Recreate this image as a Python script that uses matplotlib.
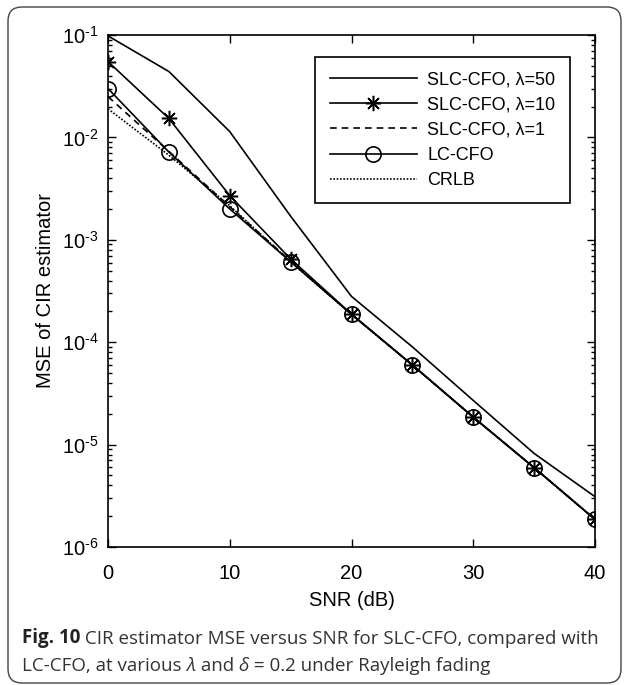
import matplotlib
matplotlib.use("Agg")
import matplotlib.pyplot as plt
from matplotlib.patches import FancyBboxPatch
from matplotlib.ticker import LogLocator, NullFormatter, FuncFormatter
from matplotlib.transforms import IdentityTransform
import numpy as np

snr = [0, 5, 10, 15, 20, 25, 30, 35, 40]
slc_50 = [0.098, 0.044, 0.0114, 1.7e-3, 2.8e-4, 9.0e-5, 2.7e-5, 8.2e-6, 3.1e-6]
slc_10 = [0.055, 0.0153, 2.7e-3, 6.5e-4, 1.88e-4, 6.0e-5, 1.86e-5, 5.95e-6, 1.86e-6]
slc_1 = [0.025, 7.3e-3, 2.1e-3, 6.2e-4, 1.87e-4, 5.98e-5, 1.85e-5, 5.95e-6, 1.86e-6]
lc_cfo = [0.030, 0.0072, 0.0020, 6.1e-4, 1.87e-4, 5.98e-5, 1.85e-5, 5.95e-6, 1.86e-6]
crlb = [0.019, 6.7e-3, 2.15e-3, 6.1e-4, 1.86e-4, 5.97e-5, 1.85e-5, 5.95e-6, 1.86e-6]
labels = ["SLC-CFO, λ=50", "SLC-CFO, λ=10", "SLC-CFO, λ=1", "LC-CFO", "CRLB"]
xticks = [0, 10, 20, 30, 40]

plt.rcParams['font.family'] = ['Liberation Sans', 'DejaVu Sans']
plt.rcParams['mathtext.fontset'] = 'custom'
plt.rcParams['mathtext.rm'] = 'Liberation Sans'
plt.rcParams['mathtext.it'] = 'Liberation Sans:italic'
plt.rcParams['mathtext.default'] = 'regular'

fig = plt.figure(figsize=(6.27, 6.85), dpi=100)
ax = fig.add_axes([108/627, 1-547/685, 487/627, 512/685])

lw = 1.2
ax.semilogy(snr, slc_50, color='black', lw=lw, label=labels[0])
ax.semilogy(snr, slc_10, color='black', lw=lw, marker=(8, 2, 0), markersize=11,
            markeredgewidth=1.1, label=labels[1])
ax.semilogy(snr, slc_1, color='black', lw=lw, ls=(0, (4, 3)), label=labels[2])
ax.semilogy(snr, lc_cfo, color='black', lw=lw, marker='o', markersize=11,
            markerfacecolor='none', markeredgewidth=1.2, label=labels[3])
ax.semilogy(snr, crlb, color='black', lw=lw, ls=(0, (1, 1)), label=labels[4])

ax.set_xlim(0, 40)
ax.set_ylim(1e-6, 1e-1)
ax.set_xticks(xticks)
ax.yaxis.set_major_locator(LogLocator(base=10, numticks=10))
ax.yaxis.set_major_formatter(FuncFormatter(
    lambda v, p: "$10^{\u2010%d}$" % int(round(-np.log10(v)))))
ax.yaxis.set_minor_locator(LogLocator(base=10, subs=range(2, 10), numticks=20))
ax.yaxis.set_minor_formatter(NullFormatter())
ax.tick_params(which='both', direction='in', top=True, right=True, labelsize=14.5,
               width=1)
ax.tick_params(axis='x', pad=12)
ax.tick_params(axis='y', pad=7)
ax.tick_params(which='major', length=6)
ax.tick_params(which='minor', length=3)
for s in ax.spines.values():
    s.set_linewidth(1.2)

ax.set_xlabel("SNR (dB)", fontsize=14.5, labelpad=6)
ax.set_ylabel("MSE of CIR estimator", fontsize=14.5, labelpad=5)

leg = ax.legend(loc='upper right', bbox_to_anchor=(462/487, 1-22/512), borderaxespad=0,
                fontsize=13, handlelength=4.8, labelspacing=0.45, fancybox=False,
                edgecolor='black', framealpha=1, borderpad=0.8, handletextpad=0.6)
leg.get_frame().set_linewidth(1.2)

# outer border (pixel coordinates)
border = FancyBboxPatch((8, 2), 613, 676,
                        boxstyle="round,pad=0,rounding_size=14",
                        transform=IdentityTransform(), fill=False,
                        edgecolor='#444444', lw=1.0)
fig.patches.append(border)

cap_font = ['Open Sans', 'DejaVu Sans']
cap_col = '#333333'
cs = 13.5
t1 = fig.text(22/627, 1-643/685, "Fig. 10", fontsize=cs, fontweight='bold',
              family=cap_font, va='baseline', color='#222222')
plt.annotate(" CIR estimator MSE versus SNR for SLC-CFO, compared with",
             xy=(1, 0), xycoords=t1, va='bottom', ha='left', color=cap_col,
             fontsize=cs, family=cap_font, annotation_clip=False)
pieces = [("LC-CFO, at various ", 'normal'), ("λ", 'italic'), (" and ", 'normal'),
          ("δ", 'italic'), (" = 0.2 under Rayleigh fading", 'normal')]
prev = fig.text(22/627, 1-671/685, pieces[0][0], fontsize=cs, family=cap_font,
                va='baseline', color=cap_col)
for txt, st in pieces[1:]:
    prev = plt.annotate(txt, xy=(1, 0), xycoords=prev, va='bottom', ha='left',
                        fontsize=cs, family=cap_font, style=st, color=cap_col,
                        annotation_clip=False)

fig.savefig("out.png", dpi=100)
